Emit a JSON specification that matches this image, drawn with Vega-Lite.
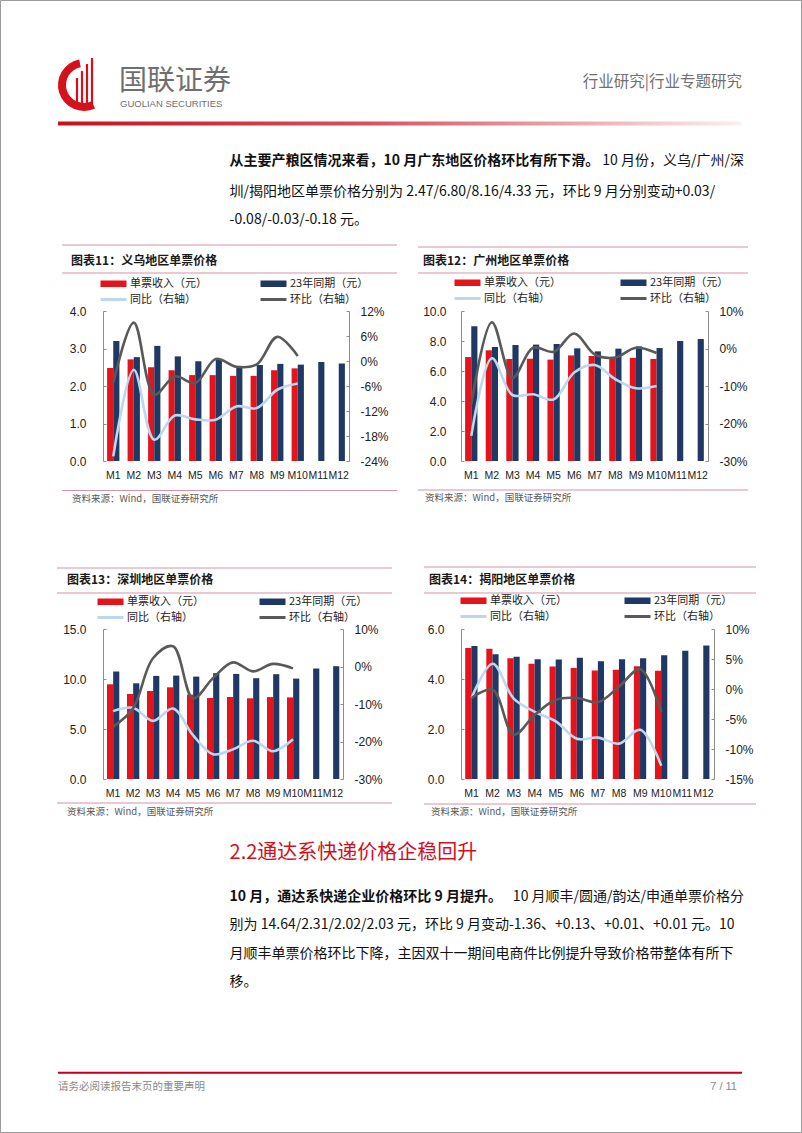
{
 "$schema": "https://vega.github.io/schema/vega-lite/v6.json",
 "padding": 0,
 "background": "#ffffff",
 "columns": 4,
 "spacing": {"row": 168, "column": 0},
 "bounds": "flush",
 "align": {"row": "all", "column": "none"},
 "resolve": {"scale": {"color": "independent"}, "legend": {"color": "independent"}},
 "config": {"view": {"stroke": null}, "font": "Noto Sans CJK SC", "axis": {"grid": false}},
 "datasets": {
  "yiwu": [
   {"m": "M1", "a": 2.48, "b": 3.20, "yoy": -22.9, "mom": -5.3},
   {"m": "M2", "a": 2.71, "b": 2.77, "yoy": -2.1, "mom": 9.2},
   {"m": "M3", "a": 2.50, "b": 3.07, "yoy": -18.9, "mom": -8.1},
   {"m": "M4", "a": 2.42, "b": 2.79, "yoy": -13.1, "mom": -3.7},
   {"m": "M5", "a": 2.29, "b": 2.66, "yoy": -14.0, "mom": -5.3},
   {"m": "M6", "a": 2.29, "b": 2.71, "yoy": -14.1, "mom": 0.5},
   {"m": "M7", "a": 2.27, "b": 2.53, "yoy": -10.9, "mom": -1.4},
   {"m": "M8", "a": 2.27, "b": 2.56, "yoy": -11.3, "mom": -0.8},
   {"m": "M9", "a": 2.42, "b": 2.59, "yoy": -6.9, "mom": 5.8},
   {"m": "M10", "a": 2.47, "b": 2.57, "yoy": -5.4, "mom": 1.2},
   {"m": "M11", "b": 2.64},
   {"m": "M12", "b": 2.60}
  ],
  "guangzhou": [
   {"m": "M1", "a": 6.93, "b": 8.98, "yoy": -23.3, "mom": -14.9},
   {"m": "M2", "a": 7.38, "b": 7.60, "yoy": -2.6, "mom": 7.0},
   {"m": "M3", "a": 6.80, "b": 7.73, "yoy": -12.4, "mom": -7.8},
   {"m": "M4", "a": 6.82, "b": 7.76, "yoy": -12.2, "mom": 0.2},
   {"m": "M5", "a": 6.76, "b": 7.80, "yoy": -13.6, "mom": -0.9},
   {"m": "M6", "a": 7.04, "b": 7.51, "yoy": -6.4, "mom": 4.0},
   {"m": "M7", "a": 7.00, "b": 7.31, "yoy": -4.4, "mom": -1.6},
   {"m": "M8", "a": 6.89, "b": 7.49, "yoy": -8.2, "mom": -2.4},
   {"m": "M9", "a": 6.88, "b": 7.64, "yoy": -10.6, "mom": 0.2},
   {"m": "M10", "a": 6.80, "b": 7.53, "yoy": -10.0, "mom": -1.2},
   {"m": "M11", "b": 8.00},
   {"m": "M12", "b": 8.13}
  ],
  "shenzhen": [
   {"m": "M1", "a": 9.47, "b": 10.75, "yoy": -11.9, "mom": -16.1},
   {"m": "M2", "a": 8.50, "b": 9.57, "yoy": -11.0, "mom": -11.2},
   {"m": "M3", "a": 8.80, "b": 10.31, "yoy": -14.5, "mom": 2.2},
   {"m": "M4", "a": 9.17, "b": 10.34, "yoy": -11.2, "mom": 5.4},
   {"m": "M5", "a": 8.44, "b": 10.24, "yoy": -18.3, "mom": -8.5},
   {"m": "M6", "a": 8.10, "b": 10.58, "yoy": -23.4, "mom": -3.1},
   {"m": "M7", "a": 8.20, "b": 10.51, "yoy": -22.1, "mom": 1.1},
   {"m": "M8", "a": 8.07, "b": 10.08, "yoy": -19.8, "mom": -1.3},
   {"m": "M9", "a": 8.19, "b": 10.48, "yoy": -22.6, "mom": 0.7},
   {"m": "M10", "a": 8.16, "b": 10.04, "yoy": -19.4, "mom": -0.5},
   {"m": "M11", "b": 11.05},
   {"m": "M12", "b": 11.28}
  ],
  "jieyang": [
   {"m": "M1", "a": 5.24, "b": 5.32, "yoy": -1.5, "mom": -1.5},
   {"m": "M2", "a": 5.21, "b": 4.99, "yoy": 4.2, "mom": -0.1},
   {"m": "M3", "a": 4.83, "b": 4.89, "yoy": -1.6, "mom": -7.6},
   {"m": "M4", "a": 4.61, "b": 4.79, "yoy": -3.8, "mom": -4.3},
   {"m": "M5", "a": 4.50, "b": 4.78, "yoy": -5.4, "mom": -1.8},
   {"m": "M6", "a": 4.44, "b": 4.85, "yoy": -8.3, "mom": -1.5},
   {"m": "M7", "a": 4.34, "b": 4.71, "yoy": -8.1, "mom": -2.2},
   {"m": "M8", "a": 4.37, "b": 4.79, "yoy": -9.1, "mom": 0.4},
   {"m": "M9", "a": 4.51, "b": 4.83, "yoy": -6.8, "mom": 3.3},
   {"m": "M10", "a": 4.33, "b": 4.95, "yoy": -12.8, "mom": -3.8},
   {"m": "M11", "b": 5.13},
   {"m": "M12", "b": 5.34}
  ]
 },
 "concat": [
  {
   "width": 98, "height": 150,
   "data": {"values": [{}]},
   "layer": [
    {"mark": {"type": "rect", "fillOpacity": 0, "stroke": "#9a9a9a", "strokeWidth": 1}, "encoding": {"x": {"value": 0.5}, "x2": {"value": 801.5}, "y": {"value": -310.5}, "y2": {"value": 821.5}}},
    {"mark": {"type": "arc", "x": 84, "y": -226, "innerRadius": 18, "outerRadius": 26, "theta": 2.7, "theta2": 6.1, "color": "#D3121C"}, "encoding": {}},
    {"mark": {"type": "rule", "color": "#D3121C", "strokeWidth": 2.2}, "encoding": {"x": {"value": 77}, "y": {"value": -233}, "y2": {"value": -203}}},
    {"mark": {"type": "rule", "color": "#D3121C", "strokeWidth": 2.2}, "encoding": {"x": {"value": 82}, "y": {"value": -240}, "y2": {"value": -202}}},
    {"mark": {"type": "rule", "color": "#D3121C", "strokeWidth": 2.2}, "encoding": {"x": {"value": 87}, "y": {"value": -247}, "y2": {"value": -203}}},
    {"mark": {"type": "rule", "color": "#D3121C", "strokeWidth": 2.2}, "encoding": {"x": {"value": 92}, "y": {"value": -253}, "y2": {"value": -206}}},
    {"mark": {"type": "text", "text": "国联证券", "align": "left", "baseline": "middle", "fontSize": 28, "color": "#6f6f6f"}, "encoding": {"x": {"value": 119}, "y": {"value": -229}}},
    {"mark": {"type": "text", "text": "GUOLIAN SECURITIES", "font": "Liberation Sans", "align": "left", "baseline": "middle", "fontSize": 9.5, "color": "#6f6f6f"}, "encoding": {"x": {"value": 120}, "y": {"value": -207}}},
    {"mark": {"type": "text", "text": "行业研究|行业专题研究", "align": "right", "baseline": "middle", "fontSize": 15.5, "color": "#707070"}, "encoding": {"x": {"value": 742}, "y": {"value": -229}}},
    {"mark": {"type": "rect", "color": {"gradient": "linear", "x1": 0, "y1": 0, "x2": 1, "y2": 0, "stops": [{"offset": 0, "color": "#C8111C"}, {"offset": 0.45, "color": "#D9505B"}, {"offset": 1, "color": "#FBEFF1"}]}}, "encoding": {"x": {"value": 58}, "x2": {"value": 741}, "y": {"value": -189.5}, "y2": {"value": -185.5}}},
    {"mark": {"type": "text", "text": "从主要产粮区情况来看，10 月广东地区价格环比有所下滑。", "align": "left", "baseline": "middle", "fontSize": 14, "fontWeight": "bold", "color": "#111111"}, "encoding": {"x": {"value": 229.6}, "y": {"value": -150}}},
    {"mark": {"type": "text", "text": "10 月份，义乌/广州/深", "align": "right", "baseline": "middle", "fontSize": 14, "color": "#111111"}, "encoding": {"x": {"value": 744}, "y": {"value": -150}}},
    {"mark": {"type": "text", "text": "圳/揭阳地区单票价格分别为 2.47/6.80/8.16/4.33 元，环比 9 月分别变动+0.03/", "align": "left", "baseline": "middle", "fontSize": 14, "color": "#111111"}, "encoding": {"x": {"value": 229.6}, "y": {"value": -119.3}}},
    {"mark": {"type": "text", "text": "-0.08/-0.03/-0.18 元。", "align": "left", "baseline": "middle", "fontSize": 14, "color": "#111111"}, "encoding": {"x": {"value": 229.6}, "y": {"value": -91}}}
   ]
  },
  {
   "width": 246, "height": 150,
   "data": {"name": "yiwu"},
   "layer": [
    {"data": {"values": [{}]}, "mark": {"type": "rule", "color": "#D493A8", "strokeWidth": 1}, "encoding": {"x": {"value": -41}, "x2": {"value": 294}, "y": {"value": -66}}},
    {"data": {"values": [{}]}, "mark": {"type": "rule", "color": "#D493A8", "strokeWidth": 1}, "encoding": {"x": {"value": -41}, "x2": {"value": 294}, "y": {"value": -38}}},
    {"data": {"values": [{}]}, "mark": {"type": "rule", "color": "#D493A8", "strokeWidth": 1}, "encoding": {"x": {"value": -41}, "x2": {"value": 294}, "y": {"value": 179.5}}},
    {"data": {"values": [{}]}, "mark": {"type": "text", "text": "图表11：义乌地区单票价格", "align": "left", "baseline": "middle", "fontSize": 12, "fontWeight": "bold", "color": "#1a1a1a"}, "encoding": {"x": {"value": -32}, "y": {"value": -50}}},
    {"data": {"values": [{}]}, "mark": {"type": "text", "text": "资料来源：Wind，国联证券研究所", "align": "left", "baseline": "middle", "fontSize": 9.5, "color": "#595959"}, "encoding": {"x": {"value": -31}, "y": {"value": 187.5}}},
    {
     "transform": [{"fold": ["a", "b"], "as": ["s", "v"]}, {"filter": "datum.v != null"}],
     "mark": {"type": "bar"},
     "encoding": {
      "x": {"field": "m", "type": "nominal", "scale": {"domain": ["M1","M2","M3","M4","M5","M6","M7","M8","M9","M10","M11","M12"], "paddingInner": 0.4, "paddingOuter": 0.2}, "axis": {"title": null, "domain": false, "ticks": false, "labelAngle": 0, "labelFont": "Liberation Sans", "labelFontSize": 10.5, "labelColor": "#222222", "labelPadding": 9, "labelOverlap": false}},
      "xOffset": {"field": "s", "type": "nominal", "sort": ["a", "b"]},
      "y": {"field": "v", "type": "quantitative", "scale": {"domain": [0, 4], "nice": false}, "axis": {"title": null, "orient": "left", "values": [0, 1, 2, 3, 4], "format": ".1f", "grid": false, "domainColor": "#8c8c8c", "tickColor": "#8c8c8c", "tickSize": -3, "labelFont": "Liberation Sans", "labelFontSize": 12, "labelColor": "#222222", "labelPadding": 20}},
      "color": {"field": "s", "type": "nominal", "scale": {"domain": ["a", "b", "yoy", "mom"], "range": ["#E3141B", "#1F3864", "#BDD7EE", "#595959"]}, "legend": {"orient": "none", "legendX": -3, "legendY": -33, "direction": "horizontal", "columns": 2, "title": null, "padding": 0, "symbolSize": 100, "symbolStrokeWidth": 0, "labelOffset": 19, "labelFont": "Noto Sans CJK SC", "labelFontSize": 11, "labelColor": "#222222", "columnPadding": 53, "rowPadding": 4, "labelExpr": "{'a':'单票收入（元）','b':'23年同期（元）','yoy':'同比（右轴）','mom':'环比（右轴）'}[datum.value]", "encode": {"symbols": {"update": {"shape": {"signal": "(datum.value == 'yoy' || datum.value == 'mom') ? 'M-1,-0.3H4.2V0.3H-1Z' : 'M-1,-0.65H4.2V0.65H-1Z'"}}}}}}
     }
    },
    {
     "transform": [{"filter": "datum.yoy != null"}],
     "layer": [
      {"mark": {"type": "line", "interpolate": "catmull-rom", "color": "#BDD7EE", "strokeWidth": 2.6}, "encoding": {"x": {"field": "m", "type": "nominal", "scale": {"domain": ["M1","M2","M3","M4","M5","M6","M7","M8","M9","M10","M11","M12"]}}, "y": {"field": "yoy", "type": "quantitative", "scale": {"domain": [-24, 12], "nice": false}, "axis": {"title": null, "orient": "right", "values": [-24, -18, -12, -6, 0, 6, 12], "labelExpr": "datum.value + '%'", "grid": false, "domainColor": "#8c8c8c", "tickColor": "#8c8c8c", "tickSize": -3, "labelFont": "Liberation Sans", "labelFontSize": 12, "labelColor": "#222222", "labelPadding": 14}}}},
      {"mark": {"type": "line", "interpolate": "catmull-rom", "color": "#595959", "strokeWidth": 2.6}, "encoding": {"x": {"field": "m", "type": "nominal", "scale": {"domain": ["M1","M2","M3","M4","M5","M6","M7","M8","M9","M10","M11","M12"]}}, "y": {"field": "mom", "type": "quantitative", "scale": {"domain": [-24, 12], "nice": false}, "axis": {"title": null, "orient": "right", "values": [-24, -18, -12, -6, 0, 6, 12], "labelExpr": "datum.value + '%'", "grid": false, "domainColor": "#8c8c8c", "tickColor": "#8c8c8c", "tickSize": -3, "labelFont": "Liberation Sans", "labelFontSize": 12, "labelColor": "#222222", "labelPadding": 14}}}}
     ]
    }
   ],
   "resolve": {"scale": {"y": "independent"}}
  },
  {"width": 112, "height": 150, "data": {"values": []}, "mark": "point"},
  {
   "width": 247, "height": 150,
   "data": {"name": "guangzhou"},
   "layer": [
    {"data": {"values": [{}]}, "mark": {"type": "rule", "color": "#D493A8", "strokeWidth": 1}, "encoding": {"x": {"value": -43}, "x2": {"value": 287}, "y": {"value": -64}}},
    {"data": {"values": [{}]}, "mark": {"type": "rule", "color": "#D493A8", "strokeWidth": 1}, "encoding": {"x": {"value": -43}, "x2": {"value": 287}, "y": {"value": -38}}},
    {"data": {"values": [{}]}, "mark": {"type": "rule", "color": "#D493A8", "strokeWidth": 1}, "encoding": {"x": {"value": -43}, "x2": {"value": 287}, "y": {"value": 179}}},
    {"data": {"values": [{}]}, "mark": {"type": "text", "text": "图表12：广州地区单票价格", "align": "left", "baseline": "middle", "fontSize": 12, "fontWeight": "bold", "color": "#1a1a1a"}, "encoding": {"x": {"value": -38}, "y": {"value": -50}}},
    {"data": {"values": [{}]}, "mark": {"type": "text", "text": "资料来源：Wind，国联证券研究所", "align": "left", "baseline": "middle", "fontSize": 9.5, "color": "#595959"}, "encoding": {"x": {"value": -36}, "y": {"value": 187}}},
    {
     "transform": [{"fold": ["a", "b"], "as": ["s", "v"]}, {"filter": "datum.v != null"}],
     "mark": {"type": "bar"},
     "encoding": {
      "x": {"field": "m", "type": "nominal", "scale": {"domain": ["M1","M2","M3","M4","M5","M6","M7","M8","M9","M10","M11","M12"], "paddingInner": 0.4, "paddingOuter": 0.2}, "axis": {"title": null, "domain": false, "ticks": false, "labelAngle": 0, "labelFont": "Liberation Sans", "labelFontSize": 10.5, "labelColor": "#222222", "labelPadding": 9, "labelOverlap": false}},
      "xOffset": {"field": "s", "type": "nominal", "sort": ["a", "b"]},
      "y": {"field": "v", "type": "quantitative", "scale": {"domain": [0, 10], "nice": false}, "axis": {"title": null, "orient": "left", "values": [0, 2, 4, 6, 8, 10], "format": ".1f", "grid": false, "domainColor": "#8c8c8c", "tickColor": "#8c8c8c", "tickSize": -3, "labelFont": "Liberation Sans", "labelFontSize": 12, "labelColor": "#222222", "labelPadding": 18}},
      "color": {"field": "s", "type": "nominal", "scale": {"domain": ["a", "b", "yoy", "mom"], "range": ["#E3141B", "#1F3864", "#BDD7EE", "#595959"]}, "legend": {"orient": "none", "legendX": -7, "legendY": -34, "direction": "horizontal", "columns": 2, "title": null, "padding": 0, "symbolSize": 100, "symbolStrokeWidth": 0, "labelOffset": 19, "labelFont": "Noto Sans CJK SC", "labelFontSize": 11, "labelColor": "#222222", "columnPadding": 59, "rowPadding": 4, "labelExpr": "{'a':'单票收入（元）','b':'23年同期（元）','yoy':'同比（右轴）','mom':'环比（右轴）'}[datum.value]", "encode": {"symbols": {"update": {"shape": {"signal": "(datum.value == 'yoy' || datum.value == 'mom') ? 'M-1,-0.3H4.2V0.3H-1Z' : 'M-1,-0.65H4.2V0.65H-1Z'"}}}}}}
     }
    },
    {
     "transform": [{"filter": "datum.yoy != null"}],
     "layer": [
      {"mark": {"type": "line", "interpolate": "catmull-rom", "color": "#BDD7EE", "strokeWidth": 2.6}, "encoding": {"x": {"field": "m", "type": "nominal", "scale": {"domain": ["M1","M2","M3","M4","M5","M6","M7","M8","M9","M10","M11","M12"]}}, "y": {"field": "yoy", "type": "quantitative", "scale": {"domain": [-30, 10], "nice": false}, "axis": {"title": null, "orient": "right", "values": [-30, -20, -10, 0, 10], "labelExpr": "datum.value + '%'", "grid": false, "domainColor": "#8c8c8c", "tickColor": "#8c8c8c", "tickSize": -3, "labelFont": "Liberation Sans", "labelFontSize": 12, "labelColor": "#222222", "labelPadding": 14}}}},
      {"mark": {"type": "line", "interpolate": "catmull-rom", "color": "#595959", "strokeWidth": 2.6}, "encoding": {"x": {"field": "m", "type": "nominal", "scale": {"domain": ["M1","M2","M3","M4","M5","M6","M7","M8","M9","M10","M11","M12"]}}, "y": {"field": "mom", "type": "quantitative", "scale": {"domain": [-30, 10], "nice": false}, "axis": {"title": null, "orient": "right", "values": [-30, -20, -10, 0, 10], "labelExpr": "datum.value + '%'", "grid": false, "domainColor": "#8c8c8c", "tickColor": "#8c8c8c", "tickSize": -3, "labelFont": "Liberation Sans", "labelFontSize": 12, "labelColor": "#222222", "labelPadding": 14}}}}
     ]
    }
   ],
   "resolve": {"scale": {"y": "independent"}}
  },
  {
   "width": 103, "height": 150,
   "data": {"values": [{}]},
   "layer": [
    {"mark": {"type": "text", "text": "2.2通达系快递价格企稳回升", "align": "left", "baseline": "middle", "fontSize": 20, "color": "#D0101E"}, "encoding": {"x": {"value": 229.6}, "y": {"value": 224}}},
    {"mark": {"type": "text", "text": "10 月，通达系快递企业价格环比 9 月提升。", "align": "left", "baseline": "middle", "fontSize": 14, "fontWeight": "bold", "color": "#111111"}, "encoding": {"x": {"value": 229.6}, "y": {"value": 267.7}}},
    {"mark": {"type": "text", "text": "10 月顺丰/圆通/韵达/申通单票价格分", "align": "right", "baseline": "middle", "fontSize": 14, "color": "#111111"}, "encoding": {"x": {"value": 744}, "y": {"value": 267.7}}},
    {"mark": {"type": "text", "text": "别为 14.64/2.31/2.02/2.03 元，环比 9 月变动-1.36、+0.13、+0.01、+0.01 元。10", "align": "left", "baseline": "middle", "fontSize": 14, "color": "#111111"}, "encoding": {"x": {"value": 229.6}, "y": {"value": 296}}},
    {"mark": {"type": "text", "text": "月顺丰单票价格环比下降，主因双十一期间电商件比例提升导致价格带整体有所下", "align": "left", "baseline": "middle", "fontSize": 14, "color": "#111111"}, "encoding": {"x": {"value": 229.6}, "y": {"value": 324.5}}},
    {"mark": {"type": "text", "text": "移。", "align": "left", "baseline": "middle", "fontSize": 14, "color": "#111111"}, "encoding": {"x": {"value": 229.6}, "y": {"value": 353}}},
    {"mark": {"type": "rule", "color": "#C0001A", "strokeWidth": 2}, "encoding": {"x": {"value": 58}, "x2": {"value": 742}, "y": {"value": 443.7}}},
    {"mark": {"type": "text", "text": "请务必阅读报告末页的重要声明", "align": "left", "baseline": "middle", "fontSize": 10.5, "color": "#888888"}, "encoding": {"x": {"value": 58}, "y": {"value": 458}}},
    {"mark": {"type": "text", "text": "7 / 11", "font": "Liberation Sans", "align": "right", "baseline": "middle", "fontSize": 11, "color": "#888888"}, "encoding": {"x": {"value": 737}, "y": {"value": 458}}}
   ]
  },
  {
   "width": 240, "height": 150,
   "data": {"name": "shenzhen"},
   "layer": [
    {"data": {"values": [{}]}, "mark": {"type": "rule", "color": "#D493A8", "strokeWidth": 1}, "encoding": {"x": {"value": -46}, "x2": {"value": 289}, "y": {"value": -61}}},
    {"data": {"values": [{}]}, "mark": {"type": "rule", "color": "#D493A8", "strokeWidth": 1}, "encoding": {"x": {"value": -46}, "x2": {"value": 289}, "y": {"value": -36}}},
    {"data": {"values": [{}]}, "mark": {"type": "rule", "color": "#D493A8", "strokeWidth": 1}, "encoding": {"x": {"value": -46}, "x2": {"value": 289}, "y": {"value": 174}}},
    {"data": {"values": [{}]}, "mark": {"type": "text", "text": "图表13：深圳地区单票价格", "align": "left", "baseline": "middle", "fontSize": 12, "fontWeight": "bold", "color": "#1a1a1a"}, "encoding": {"x": {"value": -36}, "y": {"value": -49}}},
    {"data": {"values": [{}]}, "mark": {"type": "text", "text": "资料来源：Wind，国联证券研究所", "align": "left", "baseline": "middle", "fontSize": 9.5, "color": "#595959"}, "encoding": {"x": {"value": -36}, "y": {"value": 183}}},
    {
     "transform": [{"fold": ["a", "b"], "as": ["s", "v"]}, {"filter": "datum.v != null"}],
     "mark": {"type": "bar"},
     "encoding": {
      "x": {"field": "m", "type": "nominal", "scale": {"domain": ["M1","M2","M3","M4","M5","M6","M7","M8","M9","M10","M11","M12"], "paddingInner": 0.4, "paddingOuter": 0.2}, "axis": {"title": null, "domain": false, "ticks": false, "labelAngle": 0, "labelFont": "Liberation Sans", "labelFontSize": 10.5, "labelColor": "#222222", "labelPadding": 9, "labelOverlap": false}},
      "xOffset": {"field": "s", "type": "nominal", "sort": ["a", "b"]},
      "y": {"field": "v", "type": "quantitative", "scale": {"domain": [0, 15], "nice": false}, "axis": {"title": null, "orient": "left", "values": [0, 5, 10, 15], "format": ".1f", "grid": false, "domainColor": "#8c8c8c", "tickColor": "#8c8c8c", "tickSize": -3, "labelFont": "Liberation Sans", "labelFontSize": 12, "labelColor": "#222222", "labelPadding": 20}},
      "color": {"field": "s", "type": "nominal", "scale": {"domain": ["a", "b", "yoy", "mom"], "range": ["#E3141B", "#1F3864", "#BDD7EE", "#595959"]}, "legend": {"orient": "none", "legendX": -6, "legendY": -33, "direction": "horizontal", "columns": 2, "title": null, "padding": 0, "symbolSize": 100, "symbolStrokeWidth": 0, "labelOffset": 19, "labelFont": "Noto Sans CJK SC", "labelFontSize": 11, "labelColor": "#222222", "columnPadding": 55, "rowPadding": 4, "labelExpr": "{'a':'单票收入（元）','b':'23年同期（元）','yoy':'同比（右轴）','mom':'环比（右轴）'}[datum.value]", "encode": {"symbols": {"update": {"shape": {"signal": "(datum.value == 'yoy' || datum.value == 'mom') ? 'M-1,-0.3H4.2V0.3H-1Z' : 'M-1,-0.65H4.2V0.65H-1Z'"}}}}}}
     }
    },
    {
     "transform": [{"filter": "datum.yoy != null"}],
     "layer": [
      {"mark": {"type": "line", "interpolate": "catmull-rom", "color": "#BDD7EE", "strokeWidth": 2.6}, "encoding": {"x": {"field": "m", "type": "nominal", "scale": {"domain": ["M1","M2","M3","M4","M5","M6","M7","M8","M9","M10","M11","M12"]}}, "y": {"field": "yoy", "type": "quantitative", "scale": {"domain": [-30, 10], "nice": false}, "axis": {"title": null, "orient": "right", "values": [-30, -20, -10, 0, 10], "labelExpr": "datum.value + '%'", "grid": false, "domainColor": "#8c8c8c", "tickColor": "#8c8c8c", "tickSize": -3, "labelFont": "Liberation Sans", "labelFontSize": 12, "labelColor": "#222222", "labelPadding": 14}}}},
      {"mark": {"type": "line", "interpolate": "catmull-rom", "color": "#595959", "strokeWidth": 2.6}, "encoding": {"x": {"field": "m", "type": "nominal", "scale": {"domain": ["M1","M2","M3","M4","M5","M6","M7","M8","M9","M10","M11","M12"]}}, "y": {"field": "mom", "type": "quantitative", "scale": {"domain": [-30, 10], "nice": false}, "axis": {"title": null, "orient": "right", "values": [-30, -20, -10, 0, 10], "labelExpr": "datum.value + '%'", "grid": false, "domainColor": "#8c8c8c", "tickColor": "#8c8c8c", "tickSize": -3, "labelFont": "Liberation Sans", "labelFontSize": 12, "labelColor": "#222222", "labelPadding": 14}}}}
     ]
    }
   ],
   "resolve": {"scale": {"y": "independent"}}
  },
  {"width": 107, "height": 150, "data": {"values": []}, "mark": "point"},
  {
   "width": 253, "height": 150,
   "data": {"name": "jieyang"},
   "layer": [
    {"data": {"values": [{}]}, "mark": {"type": "rule", "color": "#D493A8", "strokeWidth": 1}, "encoding": {"x": {"value": -37}, "x2": {"value": 295}, "y": {"value": -62}}},
    {"data": {"values": [{}]}, "mark": {"type": "rule", "color": "#D493A8", "strokeWidth": 1}, "encoding": {"x": {"value": -37}, "x2": {"value": 295}, "y": {"value": -36}}},
    {"data": {"values": [{}]}, "mark": {"type": "rule", "color": "#D493A8", "strokeWidth": 1}, "encoding": {"x": {"value": -37}, "x2": {"value": 295}, "y": {"value": 175}}},
    {"data": {"values": [{}]}, "mark": {"type": "text", "text": "图表14：揭阳地区单票价格", "align": "left", "baseline": "middle", "fontSize": 12, "fontWeight": "bold", "color": "#1a1a1a"}, "encoding": {"x": {"value": -32}, "y": {"value": -49}}},
    {"data": {"values": [{}]}, "mark": {"type": "text", "text": "资料来源：Wind，国联证券研究所", "align": "left", "baseline": "middle", "fontSize": 9.5, "color": "#595959"}, "encoding": {"x": {"value": -30}, "y": {"value": 183}}},
    {
     "transform": [{"fold": ["a", "b"], "as": ["s", "v"]}, {"filter": "datum.v != null"}],
     "mark": {"type": "bar"},
     "encoding": {
      "x": {"field": "m", "type": "nominal", "scale": {"domain": ["M1","M2","M3","M4","M5","M6","M7","M8","M9","M10","M11","M12"], "paddingInner": 0.4, "paddingOuter": 0.2}, "axis": {"title": null, "domain": false, "ticks": false, "labelAngle": 0, "labelFont": "Liberation Sans", "labelFontSize": 10.5, "labelColor": "#222222", "labelPadding": 9, "labelOverlap": false}},
      "xOffset": {"field": "s", "type": "nominal", "sort": ["a", "b"]},
      "y": {"field": "v", "type": "quantitative", "scale": {"domain": [0, 6], "nice": false}, "axis": {"title": null, "orient": "left", "values": [0, 2, 4, 6], "format": ".1f", "grid": false, "domainColor": "#8c8c8c", "tickColor": "#8c8c8c", "tickSize": -3, "labelFont": "Liberation Sans", "labelFontSize": 12, "labelColor": "#222222", "labelPadding": 20}},
      "color": {"field": "s", "type": "nominal", "scale": {"domain": ["a", "b", "yoy", "mom"], "range": ["#E3141B", "#1F3864", "#BDD7EE", "#595959"]}, "legend": {"orient": "none", "legendX": -1, "legendY": -34, "direction": "horizontal", "columns": 2, "title": null, "padding": 0, "symbolSize": 100, "symbolStrokeWidth": 0, "labelOffset": 19, "labelFont": "Noto Sans CJK SC", "labelFontSize": 11, "labelColor": "#222222", "columnPadding": 57, "rowPadding": 4, "labelExpr": "{'a':'单票收入（元）','b':'23年同期（元）','yoy':'同比（右轴）','mom':'环比（右轴）'}[datum.value]", "encode": {"symbols": {"update": {"shape": {"signal": "(datum.value == 'yoy' || datum.value == 'mom') ? 'M-1,-0.3H4.2V0.3H-1Z' : 'M-1,-0.65H4.2V0.65H-1Z'"}}}}}}
     }
    },
    {
     "transform": [{"filter": "datum.yoy != null"}],
     "layer": [
      {"mark": {"type": "line", "interpolate": "catmull-rom", "color": "#BDD7EE", "strokeWidth": 2.6}, "encoding": {"x": {"field": "m", "type": "nominal", "scale": {"domain": ["M1","M2","M3","M4","M5","M6","M7","M8","M9","M10","M11","M12"]}}, "y": {"field": "yoy", "type": "quantitative", "scale": {"domain": [-15, 10], "nice": false}, "axis": {"title": null, "orient": "right", "values": [-15, -10, -5, 0, 5, 10], "labelExpr": "datum.value + '%'", "grid": false, "domainColor": "#8c8c8c", "tickColor": "#8c8c8c", "tickSize": -3, "labelFont": "Liberation Sans", "labelFontSize": 12, "labelColor": "#222222", "labelPadding": 14}}}},
      {"mark": {"type": "line", "interpolate": "catmull-rom", "color": "#595959", "strokeWidth": 2.6}, "encoding": {"x": {"field": "m", "type": "nominal", "scale": {"domain": ["M1","M2","M3","M4","M5","M6","M7","M8","M9","M10","M11","M12"]}}, "y": {"field": "mom", "type": "quantitative", "scale": {"domain": [-15, 10], "nice": false}, "axis": {"title": null, "orient": "right", "values": [-15, -10, -5, 0, 5, 10], "labelExpr": "datum.value + '%'", "grid": false, "domainColor": "#8c8c8c", "tickColor": "#8c8c8c", "tickSize": -3, "labelFont": "Liberation Sans", "labelFontSize": 12, "labelColor": "#222222", "labelPadding": 14}}}}
     ]
    }
   ],
   "resolve": {"scale": {"y": "independent"}}
  }
 ]
}
